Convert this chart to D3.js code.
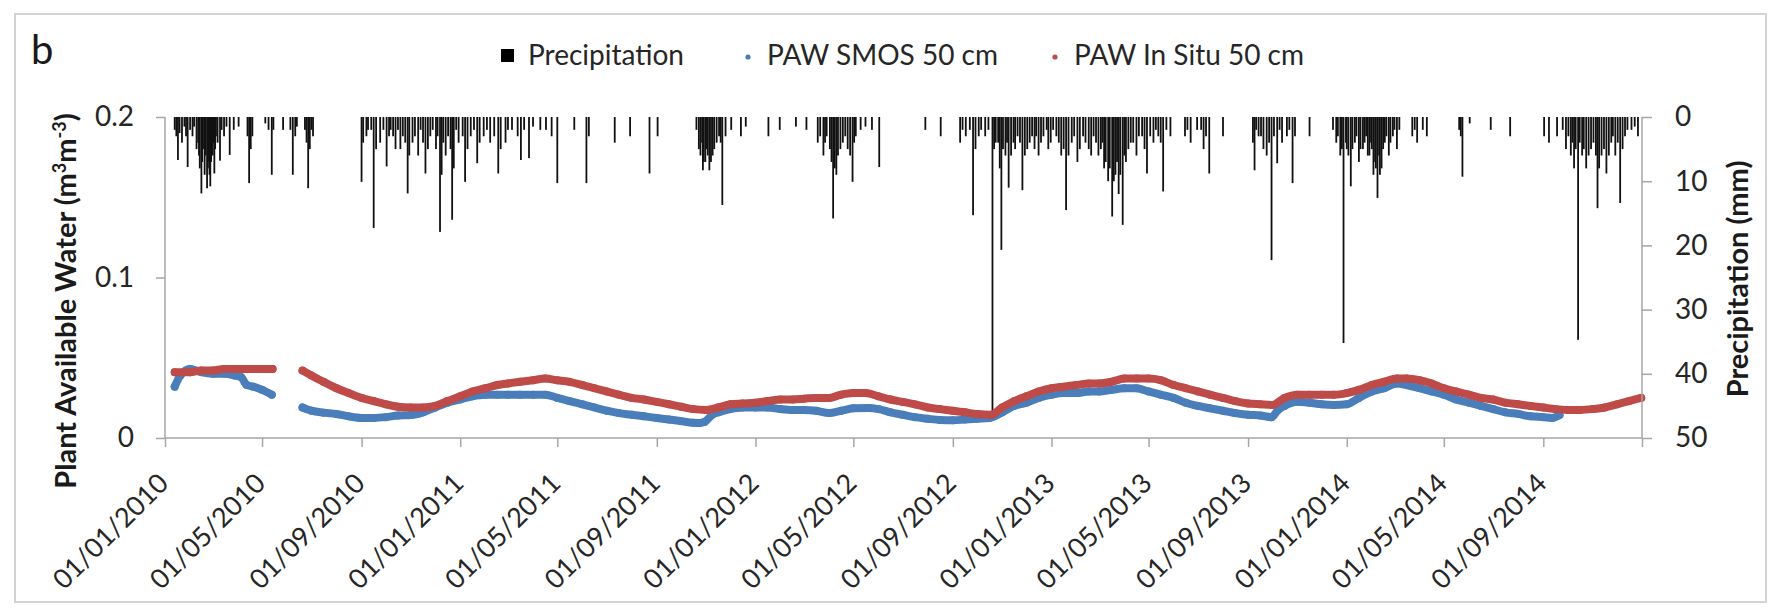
<!DOCTYPE html>
<html>
<head>
<meta charset="utf-8">
<script src="https://cdn.jsdelivr.net/npm/d3@7"></script>
<style>
  html, body { margin: 0; padding: 0; background: #fff; }
  svg { display: block; font-family: Lato, "Open Sans", sans-serif; }
</style>
</head>
<body>
<svg id="chart" width="1773" height="611"></svg>
<script>
// ---- Daily precipitation (mm) on rainy days, one array per year: [month-day, mm] ----
const precip2010 = [
  ["01-13",2],["01-15",3],["01-17",6.7],["01-19",2.5],["01-22",4],["01-25",1.5],["01-27",3],["01-29",7.8],
  ["02-01",2],["02-04",3],["02-06",1.5],["02-09",5],["02-11",4],["02-12",6],["02-13",8],["02-15",11.9],
  ["02-16",7],["02-17",5],["02-19",9],["02-20",6],["02-22",11.1],["02-23",8],["02-24",7],["02-25",9],
  ["02-26",10.8],["02-27",7],["02-28",5],["03-01",6],["03-02",4],["03-03",8.8],["03-04",5],["03-05",3],
  ["03-07",4],["03-10",6.8],["03-12",2],["03-15",3],["03-18",1.5],["03-22",5.9],["03-27",2],["04-02",1.5],
  ["04-13",3],["04-15",10.3],["04-17",5],["04-19",3],["05-05",1],["05-09",2],["05-13",9],["05-15",2],
  ["05-27",2],["06-05",2],["06-08",9],["06-11",3],["06-13",1.5],["06-23",2],["06-25",4],["06-27",11.1],
  ["06-29",5],["07-01",2],["07-03",3],["09-01",10.1],["09-03",4],["09-07",3],["09-09",2],["09-13",2],
  ["09-16",17.3],["09-19",5],["09-24",4],["09-28",2],["10-02",7.7],["10-05",3],["10-07",2],["10-10",3],
  ["10-13",5],["10-16",2],["10-19",5],["10-22",3],["10-25",4],["10-28",11.9],["10-30",6],["11-03",4],
  ["11-06",3],["11-10",6],["11-13",2],["11-16",4],["11-19",8.8],["11-22",5],["11-25",3],["11-28",2],
  ["12-02",5],["12-04",3],["12-07",17.9],["12-09",9],["12-11",4],["12-14",6],["12-17",3],["12-20",5],
  ["12-22",16],["12-24",8],["12-27",2],["12-30",4]
];
const precip2011 = [
  ["01-04",3],["01-07",10.1],["01-10",5],["01-14",3],["01-18",2],["01-22",7.2],["01-25",4],["01-30",3],
  ["02-03",2],["02-07",4],["02-12",3],["02-17",8.8],["02-20",5],["02-26",4],["03-01",2],["03-06",2],
  ["03-13",3],["03-17",6.7],["03-21",2],["03-27",6.4],["04-01",1.5],["04-10",2],["04-17",2],["04-24",3],
  ["05-01",10.3],["05-22",2],["06-06",10.3],["06-09",3],["07-11",4],["07-30",3],["08-23",8.8],["09-02",3],
  ["10-20",2],["10-23",5],["10-25",6],["10-27",4],["10-28",8.3],["10-29",7],["10-31",7],["11-02",5],
  ["11-03",6],["11-05",8.3],["11-07",7],["11-09",6],["11-11",5],["11-14",4],["11-17",3],["11-19",4],
  ["11-21",13.7],["11-25",3],["12-02",2],["12-14",3],["12-20",1.5]
];
const precip2012 = [
  ["01-17",3],["01-31",2],["02-20",1.5],["03-04",2],["03-18",4],["03-21",3],["03-25",6],["03-27",4],
  ["03-29",3],["04-02",5],["04-04",7],["04-06",15.8],["04-08",8],["04-10",9],["04-12",6],["04-15",5],
  ["04-18",4],["04-21",3],["04-24",5],["04-27",6],["04-30",10.1],["05-02",4],["05-04",3],["05-10",2],
  ["05-16",1.5],["05-24",2],["06-02",7.8],["07-29",2],["08-17",3],["09-10",4],["09-13",2],["09-17",3],
  ["09-22",2],["09-26",15.3],["09-29",5],["10-03",3],["10-06",2],["10-11",3],["10-15",2],["10-20",46],
  ["10-22",5],["10-24",4],["10-27",4],["10-29",8],["10-31",20.7],["11-02",5],["11-05",6],["11-07",4],
  ["11-09",11],["11-12",6],["11-15",4],["11-17",5],["11-20",3],["11-23",4],["11-26",11.4],["11-29",6],
  ["12-02",5],["12-05",4],["12-08",3],["12-11",5],["12-13",3],["12-16",6],["12-19",4],["12-22",3],
  ["12-26",2],["12-28",5],["12-31",4]
];
const precip2013 = [
  ["01-03",2],["01-07",3],["01-10",4],["01-13",6],["01-16",5],["01-19",14.5],["01-22",6],["01-26",4],
  ["01-29",3],["02-02",7],["02-05",5],["02-09",3],["02-12",4],["02-16",5],["02-19",6],["02-22",3],
  ["02-25",4],["02-28",6],["03-03",5],["03-05",4],["03-07",8],["03-09",7],["03-12",10],["03-14",8],
  ["03-17",15.5],["03-19",10],["03-21",9],["03-23",7],["03-25",12],["03-27",9],["03-30",16.8],["04-01",6],
  ["04-03",7],["04-06",5],["04-09",4],["04-12",4],["04-16",6],["04-19",3],["04-23",3],["04-26",5],
  ["04-29",8.8],["05-03",3],["05-07",4],["05-10",2],["05-13",3],["05-16",4],["05-19",11.6],["05-23",2],
  ["05-28",3],["06-15",3],["06-18",2],["06-22",4],["06-30",2],["07-05",2],["07-08",5],["07-11",3],
  ["07-15",8.8],["08-01",3],["09-07",4],["09-09",8.3],["09-11",2],["09-14",3],["09-17",3],["09-20",5],
  ["09-24",6],["09-27",4],["09-30",22.3],["10-03",3],["10-07",7.2],["10-10",2],["10-13",4],["10-19",3],
  ["10-22",2],["10-26",10.3],["10-29",3],["11-16",3],["12-15",2],["12-19",4],["12-21",3],["12-24",6],
  ["12-26",5],["12-28",35.2],["12-31",4]
];
const precip2014 = [
  ["01-01",5],["01-03",6],["01-06",10.8],["01-08",5],["01-11",4],["01-13",3],["01-16",7],["01-18",5],
  ["01-21",5],["01-23",4],["01-25",3],["01-27",6],["01-29",6],["01-31",4],["02-01",5],["02-03",9],
  ["02-05",7],["02-06",8],["02-08",12.6],["02-10",6],["02-11",9],["02-13",8],["02-15",5],["02-17",4],
  ["02-19",3],["02-22",6],["02-24",4],["02-27",3],["03-01",2],["03-04",5],["03-07",2],["03-23",3],
  ["03-26",2],["03-29",4],["04-05",2],["04-10",3],["05-20",2],["05-22",3],["05-24",9.3],["06-02",1],
  ["06-28",2],["07-22",3],["09-02",3],["09-08",4],["09-18",3],["09-25",2],["09-29",5],["10-02",3],
  ["10-05",6],["10-07",4],["10-09",8],["10-11",5],["10-14",34.7],["10-16",4],["10-19",6],["10-21",5],
  ["10-24",8],["10-27",6],["10-30",5],["11-02",4],["11-05",6],["11-07",14.2],["11-09",8],["11-12",6],
  ["11-15",5],["11-18",8.8],["11-21",6],["11-24",4],["11-26",3],["11-29",6],["12-02",4],["12-05",13.4],
  ["12-08",5],["12-11",3],["12-14",2],["12-19",2],["12-23",1.5],["12-27",3]
];
const precipByYear = { 2010: precip2010, 2011: precip2011, 2012: precip2012, 2013: precip2013, 2014: precip2014 };

// ---- Plant available water at 50 cm (m3 m-3), SMOS-derived ----
const smosDates = [
  "2010-01-13","2010-01-20","2010-02-01","2010-02-15","2010-03-01","2010-03-16","2010-03-28","2010-04-05",
  "2010-04-12","2010-04-20","2010-05-01","2010-05-13", null,
  "2010-06-20","2010-07-01","2010-07-16","2010-08-01","2010-08-16","2010-09-01","2010-09-16","2010-10-01",
  "2010-10-16","2010-11-01","2010-11-16","2010-12-01","2010-12-16","2011-01-01","2011-01-16","2011-02-01",
  "2011-02-16","2011-03-01","2011-03-16","2011-04-01","2011-04-16","2011-05-01","2011-05-16","2011-06-01",
  "2011-06-16","2011-07-01","2011-07-16","2011-08-01","2011-08-16","2011-09-01","2011-09-16","2011-10-01",
  "2011-10-16","2011-10-24","2011-10-30","2011-11-10","2011-11-16","2011-12-01","2011-12-16","2012-01-01",
  "2012-01-16","2012-02-01","2012-02-16","2012-03-01","2012-03-16","2012-04-01","2012-04-16","2012-05-01",
  "2012-05-20","2012-06-01","2012-06-16","2012-07-01","2012-07-16","2012-08-01","2012-08-16","2012-09-01",
  "2012-09-16","2012-10-01","2012-10-16","2012-11-01","2012-11-16","2012-12-01","2012-12-16","2013-01-01",
  "2013-01-16","2013-02-01","2013-02-16","2013-03-01","2013-03-16","2013-04-01","2013-04-16","2013-05-01",
  "2013-05-16","2013-06-01","2013-06-16","2013-07-01","2013-07-16","2013-08-01","2013-08-16","2013-09-01",
  "2013-09-16","2013-09-30","2013-10-08","2013-10-16","2013-11-01","2013-11-16","2013-12-01","2013-12-16",
  "2014-01-01","2014-01-16","2014-02-01","2014-02-16","2014-03-04","2014-03-16","2014-04-01","2014-04-16",
  "2014-05-01","2014-05-16","2014-06-01","2014-06-16","2014-07-01","2014-07-16","2014-08-01","2014-08-16",
  "2014-09-01","2014-09-12","2014-09-21"
];
const smosValues = [
  0.032,0.039,0.043,0.041,0.040,0.040,0.039,0.038,
  0.033,0.032,0.030,0.027, null,
  0.019,0.017,0.0158,0.015,0.0135,0.0125,0.0125,0.013,
  0.014,0.0143,0.016,0.019,0.022,0.024,0.026,0.027,
  0.027,0.027,0.027,0.027,0.027,0.025,0.023,0.021,
  0.019,0.017,0.0155,0.0145,0.0135,0.0125,0.0115,0.0105,
  0.0095,0.0093,0.010,0.015,0.016,0.018,0.019,0.019,
  0.019,0.018,0.0175,0.0175,0.017,0.0155,0.017,0.0185,
  0.0187,0.018,0.016,0.0145,0.013,0.012,0.0112,0.011,
  0.0115,0.012,0.0125,0.016,0.020,0.022,0.025,0.027,
  0.028,0.028,0.029,0.029,0.030,0.031,0.031,0.029,
  0.027,0.025,0.022,0.020,0.0185,0.017,0.0155,0.0145,
  0.014,0.013,0.0175,0.020,0.0226,0.022,0.021,0.0206,
  0.021,0.025,0.0289,0.031,0.034,0.033,0.031,0.029,
  0.027,0.024,0.022,0.020,0.018,0.016,0.015,0.0135,
  0.013,0.0125,0.0143
];

// ---- Plant available water at 50 cm (m3 m-3), in situ probes ----
const inSituDates = [
  "2010-01-13","2010-02-01","2010-02-15","2010-03-01","2010-03-15","2010-04-01","2010-04-15","2010-05-01",
  "2010-05-14", null,
  "2010-06-20","2010-07-01","2010-07-16","2010-08-01","2010-08-16","2010-09-01","2010-09-16","2010-10-01",
  "2010-10-16","2010-11-01","2010-11-16","2010-12-01","2010-12-16","2011-01-01","2011-01-16","2011-02-01",
  "2011-02-16","2011-03-01","2011-03-16","2011-04-01","2011-04-16","2011-05-01","2011-05-16","2011-06-01",
  "2011-06-16","2011-07-01","2011-07-16","2011-08-01","2011-08-16","2011-09-01","2011-09-16","2011-10-01",
  "2011-10-16","2011-11-01","2011-11-16","2011-12-01","2011-12-16","2012-01-01","2012-01-16","2012-02-01",
  "2012-02-16","2012-03-01","2012-03-16","2012-04-01","2012-04-16","2012-05-01","2012-05-16","2012-06-01",
  "2012-06-16","2012-07-01","2012-07-16","2012-08-01","2012-08-16","2012-09-01","2012-09-16","2012-10-01",
  "2012-10-18","2012-11-01","2012-11-16","2012-12-01","2012-12-16","2013-01-01","2013-01-16","2013-02-01",
  "2013-02-16","2013-03-01","2013-03-16","2013-04-01","2013-04-16","2013-05-01","2013-05-16","2013-06-01",
  "2013-06-16","2013-07-01","2013-07-16","2013-08-01","2013-08-16","2013-09-01","2013-09-16","2013-10-01",
  "2013-10-16","2013-11-01","2013-11-16","2013-12-01","2013-12-16","2014-01-01","2014-01-16","2014-02-01",
  "2014-02-16","2014-03-04","2014-03-16","2014-04-01","2014-04-16","2014-05-01","2014-05-16","2014-06-01",
  "2014-06-16","2014-07-01","2014-07-16","2014-08-01","2014-08-16","2014-09-01","2014-09-16","2014-10-01",
  "2014-10-16","2014-11-01","2014-11-16","2014-12-01","2014-12-16","2014-12-31"
];
const inSituValues = [
  0.041,0.041,0.042,0.042,0.043,0.043,0.043,0.043,
  0.043, null,
  0.042,0.039,0.035,0.031,0.028,0.025,0.023,0.021,
  0.0195,0.019,0.019,0.020,0.023,0.026,0.029,0.031,
  0.033,0.034,0.035,0.036,0.037,0.036,0.035,0.033,
  0.031,0.029,0.027,0.025,0.024,0.0225,0.021,0.0195,
  0.018,0.0175,0.019,0.021,0.0215,0.022,0.023,0.024,
  0.024,0.0245,0.025,0.025,0.027,0.028,0.028,0.026,
  0.024,0.0225,0.021,0.019,0.018,0.017,0.016,0.015,
  0.0145,0.019,0.023,0.026,0.029,0.031,0.032,0.033,
  0.034,0.034,0.035,0.037,0.037,0.037,0.036,0.033,
  0.031,0.029,0.027,0.025,0.023,0.0215,0.021,0.0206,
  0.025,0.027,0.027,0.027,0.027,0.028,0.030,0.033,
  0.035,0.037,0.037,0.036,0.034,0.031,0.029,0.027,
  0.025,0.024,0.022,0.021,0.020,0.019,0.018,0.0175,
  0.0175,0.018,0.019,0.021,0.023,0.025
];

// ---- Axis ticks and legend ----
const xTickLabels = [
  "01/01/2010","01/05/2010","01/09/2010","01/01/2011","01/05/2011","01/09/2011","01/01/2012",
  "01/05/2012","01/09/2012","01/01/2013","01/05/2013","01/09/2013","01/01/2014","01/05/2014","01/09/2014"
];
const pawTicks = [0, 0.1, 0.2];
const precipTicks = [0, 10, 20, 30, 40, 50];
const legendLabels = ["Precipitation", "PAW SMOS 50 cm", "PAW In Situ 50 cm"];
const legendColors = ["#000000", "#4a7ebb", "#be4b48"];

// ---------------------------------------------------------------
const svg = d3.select("#chart");
const parseISO = d3.timeParse("%Y-%m-%d");
const parseDMY = d3.timeParse("%d/%m/%Y");

const plot = { left: 165, right: 1642, top: 117, bottom: 438 };

const x = d3.scaleTime()
  .domain([parseISO("2010-01-01"), parseISO("2015-01-01")])
  .range([plot.left, plot.right]);
const yPaw = d3.scaleLinear().domain([0, 0.2]).range([plot.bottom, plot.top]);
const yRain = d3.scaleLinear().domain([0, 50]).range([plot.top, plot.bottom]);

// chart frame
svg.append("rect")
  .attr("x", 15).attr("y", 14).attr("width", 1751).attr("height", 588)
  .attr("fill", "#fff").attr("stroke", "#d3d3d3").attr("stroke-width", 2);

// panel letter
svg.append("text").attr("x", 31).attr("y", 64)
  .attr("font-size", 40).attr("fill", "#1a1a1a").text("b");

// precipitation bars hanging from the top
const rain = Object.entries(precipByYear).flatMap(([yr, rows]) =>
  rows.map(([md, mm]) => ({ date: parseISO(`${yr}-${md}`), mm })));
svg.append("g").selectAll("rect").data(rain).join("rect")
  .attr("x", d => x(d.date) - 0.9)
  .attr("y", plot.top)
  .attr("width", 1.8)
  .attr("height", d => yRain(d.mm) - plot.top)
  .attr("fill", "#111");

// PAW series
function series(dates, values) {
  return dates.map((d, i) => d === null ? null : { date: parseISO(d), v: values[i] });
}
const smos = series(smosDates, smosValues);
const inSitu = series(inSituDates, inSituValues);

const line = d3.line()
  .defined(d => d !== null && d.v !== null)
  .x(d => x(d.date)).y(d => yPaw(d.v))
  .curve(d3.curveMonotoneX);

[[smos, legendColors[1]], [inSitu, legendColors[2]]].forEach(([data, color]) => {
  svg.append("path").datum(data)
    .attr("d", line)
    .attr("fill", "none").attr("stroke", color)
    .attr("stroke-width", 8).attr("stroke-linejoin", "round").attr("stroke-linecap", "round");
  svg.append("g").selectAll("circle").data(data.filter(d => d !== null)).join("circle")
    .attr("cx", d => x(d.date)).attr("cy", d => yPaw(d.v)).attr("r", 4)
    .attr("fill", color);
});

// axes
const axisColor = "#a6a6a6";
const textColor = "#262626";

const xTicks = xTickLabels.map(parseDMY).concat([parseISO("2015-01-01")]);
const gx = svg.append("g").attr("transform", `translate(0,${plot.bottom})`)
  .call(d3.axisBottom(x).tickValues(xTicks).tickSize(9).tickFormat(""));
gx.selectAll("path,line").attr("stroke", axisColor).attr("stroke-width", 1.5);
gx.select(".domain").attr("d", `M${plot.left},0H${plot.right}`);

svg.append("g").selectAll("text").data(xTickLabels).join("text")
  .attr("transform", d => `translate(${x(parseDMY(d)) + 5},${plot.bottom + 47}) rotate(-45)`)
  .attr("text-anchor", "end")
  .attr("font-size", 27).attr("fill", textColor)
  .text(d => d);

const gyl = svg.append("g").attr("transform", `translate(${plot.left},0)`)
  .call(d3.axisLeft(yPaw).tickValues(pawTicks).tickSize(9).tickPadding(22)
    .tickFormat(d => d === 0 ? "0" : d3.format(".1f")(d)));
gyl.selectAll("path,line").attr("stroke", axisColor).attr("stroke-width", 1.5);
gyl.select(".domain").attr("d", `M0,${plot.bottom}V${plot.top}`);
gyl.selectAll("text").attr("font-size", 28).attr("fill", textColor)
  .attr("font-family", "Lato, sans-serif");

const gyr = svg.append("g").attr("transform", `translate(${plot.right},0)`)
  .call(d3.axisRight(yRain).tickValues(precipTicks).tickSize(10).tickPadding(23));
gyr.selectAll("path,line").attr("stroke", axisColor).attr("stroke-width", 1.5);
gyr.select(".domain").attr("d", `M0,${plot.top}V${plot.bottom}`);
gyr.selectAll("text").attr("font-size", 28).attr("fill", textColor)
  .attr("font-family", "Lato, sans-serif");

// axis titles
const tl = svg.append("text")
  .attr("transform", "translate(76,301) rotate(-90)")
  .attr("text-anchor", "middle").attr("font-size", 29).attr("font-weight", "bold")
  .attr("fill", "#1a1a1a");
tl.append("tspan").text("Plant Available Water (m");
tl.append("tspan").attr("dy", -10).attr("font-size", 18).text("3");
tl.append("tspan").attr("dy", 10).text("m");
tl.append("tspan").attr("dy", -10).attr("font-size", 18).text("-3");
tl.append("tspan").attr("dy", 10).text(")");

svg.append("text")
  .attr("transform", "translate(1748,279) rotate(-90)")
  .attr("text-anchor", "middle").attr("font-size", 29).attr("font-weight", "bold")
  .attr("fill", "#1a1a1a").text("Precipitation (mm)");

// legend
const legend = svg.append("g").attr("font-size", 28).attr("fill", textColor);
const legendX = [528, 767, 1074];
legend.append("rect").attr("x", 501).attr("y", 49).attr("width", 13).attr("height", 13)
  .attr("fill", legendColors[0]);
legend.append("circle").attr("cx", 748).attr("cy", 57).attr("r", 2.6).attr("fill", legendColors[1]);
legend.append("circle").attr("cx", 1055).attr("cy", 57).attr("r", 2.6).attr("fill", legendColors[2]);
legendLabels.forEach((t, i) => {
  legend.append("text").attr("x", legendX[i]).attr("y", 65).text(t);
});
</script>
</body>
</html>
